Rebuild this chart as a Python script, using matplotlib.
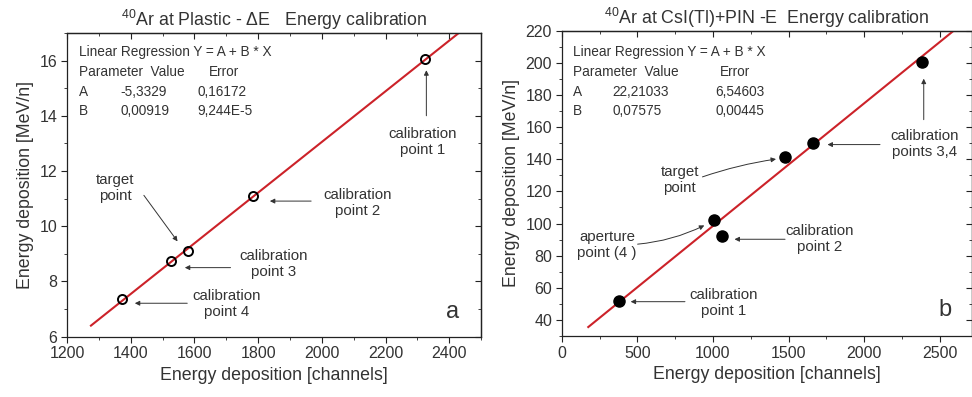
import matplotlib
matplotlib.use("Agg")
import matplotlib.pyplot as plt
from matplotlib.ticker import MultipleLocator

plt.rcParams["font.family"] = ["Liberation Sans", "DejaVu Sans"]
plt.rcParams["mathtext.fontset"] = "custom"
plt.rcParams["mathtext.rm"] = "Liberation Sans"

TXT = "#333333"
RED = "#cc2229"

# -- Panel a data (Plastic - dE) ---------------------------------
a_x = [2325, 1785, 1580, 1525, 1372]
a_y = [16.05, 11.10, 9.10, 8.75, 7.35]
a_line_x = [1275, 2430]
a_line_y = [6.40, 17.00]
a_fit = ["A", "-5,3329", "0,16172", "B", "0,00919", "9,244E-5"]

# -- Panel b data (CsI(Tl)+PIN - E) ------------------------------
b_x = [377, 1005, 1058, 1475, 1660, 2381]
b_y = [52, 102, 92, 141.6, 150.4, 200.6]
b_line_x = [175, 2590]
b_line_y = [35.5, 220.0]
b_fit = ["A", "22,21033", "6,54603", "B", "0,07575", "0,00445"]

# annotations: text, text xy, arrow tail, arrow head
a_notes = [
    ("calibration\npoint 1", (2315, 13.05), (2328, 13.9), (2328, 15.75)),
    ("calibration\npoint 2", (2111, 10.84), (1975, 10.91), (1828, 10.91)),
    ("target\npoint", (1351, 11.37), (1436, 11.2), (1552, 9.37)),
    ("calibration\npoint 3", (1847, 8.64), (1722, 8.5), (1561, 8.5)),
    ("calibration\npoint 4", (1700, 7.17), (1586, 7.21), (1404, 7.21)),
]
b_notes = [
    ("calibration\npoints 3,4", (2400, 149.8), (2123, 149.2), (1739, 149.2)),
    ("", (2394, 163), (2394, 163), (2394, 192)),
    ("target\npoint", (780, 127.2), (913, 128.5), (1435, 140.4)),
    ("aperture\npoint (4 )", (300, 86.7), (483, 87), (959, 99.6)),
    ("calibration\npoint 2", (1706, 90.5), (1495, 90.2), (1124, 90.2)),
    ("calibration\npoint 1", (1071, 50.7), (833, 51.3), (437, 51.3)),
]

fig = plt.figure(figsize=(9.72, 3.97), dpi=100)
ax1 = fig.add_axes([0.069, 0.152, 0.426, 0.765])
ax2 = fig.add_axes([0.578, 0.154, 0.4215, 0.768])


def style(ax, xmaj, xmin, ymaj, ymin):
    for s in ax.spines.values():
        s.set_color("#222222")
        s.set_linewidth(0.9)
    ax.xaxis.set_major_locator(MultipleLocator(xmaj))
    ax.xaxis.set_minor_locator(MultipleLocator(xmin))
    ax.yaxis.set_major_locator(MultipleLocator(ymaj))
    ax.yaxis.set_minor_locator(MultipleLocator(ymin))
    ax.tick_params(which="both", direction="out", colors="#222222",
                   labelcolor=TXT, labelsize=11.5, pad=3)
    ax.tick_params(which="major", length=4)
    ax.tick_params(which="minor", length=2.5)
    # mirrored ticks on top / right point into the plot
    sx = ax.secondary_xaxis("top")
    sy = ax.secondary_yaxis("right")
    sx.xaxis.set_major_locator(MultipleLocator(xmaj))
    sx.xaxis.set_minor_locator(MultipleLocator(xmin))
    sy.yaxis.set_major_locator(MultipleLocator(ymaj))
    sy.yaxis.set_minor_locator(MultipleLocator(ymin))
    for sec in (sx, sy):
        sec.tick_params(which="both", direction="in", colors="#222222",
                        labeltop=False, labelright=False)
        sec.tick_params(which="major", length=4)
        sec.tick_params(which="minor", length=2.5)
        for s in sec.spines.values():
            s.set_color("#222222")
            s.set_linewidth(0.9)
    ax.set_xlabel("Energy deposition [channels]", fontsize=12.8, color=TXT,
                  labelpad=4)
    ax.set_ylabel("Energy deposition [MeV/n]", fontsize=12.8, color=TXT,
                  labelpad=4)


def fit_box(ax, vals, x0, xv, xe, ex, rows):
    tr = ax.transAxes
    kw = dict(transform=tr, fontsize=9.8, color=TXT, va="center")
    ax.text(x0, rows[0], "Linear Regression Y = A + B * X", **kw)
    ax.text(x0, rows[1], "Parameter  Value", **kw)
    ax.text(ex, rows[1], "Error", **kw)
    for i, yy in enumerate(rows[2:]):
        ax.text(x0, yy, vals[3 * i], **kw)
        ax.text(xv, yy, vals[3 * i + 1], **kw)
        ax.text(xe, yy, vals[3 * i + 2], **kw)


def notes(ax, items, rad_list):
    for (t, xy, tail, head), rad in zip(items, rad_list):
        if t:
            ax.text(xy[0], xy[1], t, ha="center", va="center", fontsize=10.8,
                    color=TXT, linespacing=1.2)
        ax.annotate("", xy=head, xytext=tail,
                    arrowprops=dict(arrowstyle="-|>", color="#333333", lw=0.7,
                                    mutation_scale=7,
                                    connectionstyle=f"arc3,rad={rad}"))


# -- Panel a ----------------------------------------------------
ax1.plot(a_line_x, a_line_y, color=RED, lw=1.5, zorder=2)
ax1.plot(a_x, a_y, "o", mfc="none", mec="black", ms=6.5, mew=1.4, zorder=3)
ax1.set_xlim(1200, 2500)
ax1.set_ylim(6, 17)
style(ax1, 200, 100, 2, 1)
ax1.set_title(r"$^{\mathrm{40}}$Ar at Plastic - ΔE   Energy calibration",
              fontsize=12.8, color=TXT, pad=5)
fit_box(ax1, a_fit, 0.028, 0.128, 0.314, 0.342, [0.937, 0.871, 0.806, 0.743])
notes(ax1, a_notes, [0, 0, 0, 0, 0])
ax1.text(0.93, 0.08, "a", transform=ax1.transAxes, fontsize=17, color=TXT,
         ha="center", va="center")

# -- Panel b ----------------------------------------------------
ax2.plot(b_line_x, b_line_y, color=RED, lw=1.5, zorder=2)
ax2.plot(b_x, b_y, "o", color="black", ms=8, zorder=3)
ax2.set_xlim(0, 2710)
ax2.set_ylim(30, 220)
style(ax2, 500, 250, 20, 10)
ax2.set_title(r"$^{\mathrm{40}}$Ar at CsI(Tl)+PIN -E  Energy calibration",
              fontsize=12.8, color=TXT, pad=5)
fit_box(ax2, b_fit, 0.027, 0.123, 0.375, 0.387, [0.931, 0.865, 0.800, 0.738])
notes(ax2, b_notes, [0, 0, -0.05, 0.1, 0, 0])
ax2.text(0.935, 0.085, "b", transform=ax2.transAxes, fontsize=17, color=TXT,
         ha="center", va="center")

plt.savefig("out.png", dpi=100)
plt.close()
